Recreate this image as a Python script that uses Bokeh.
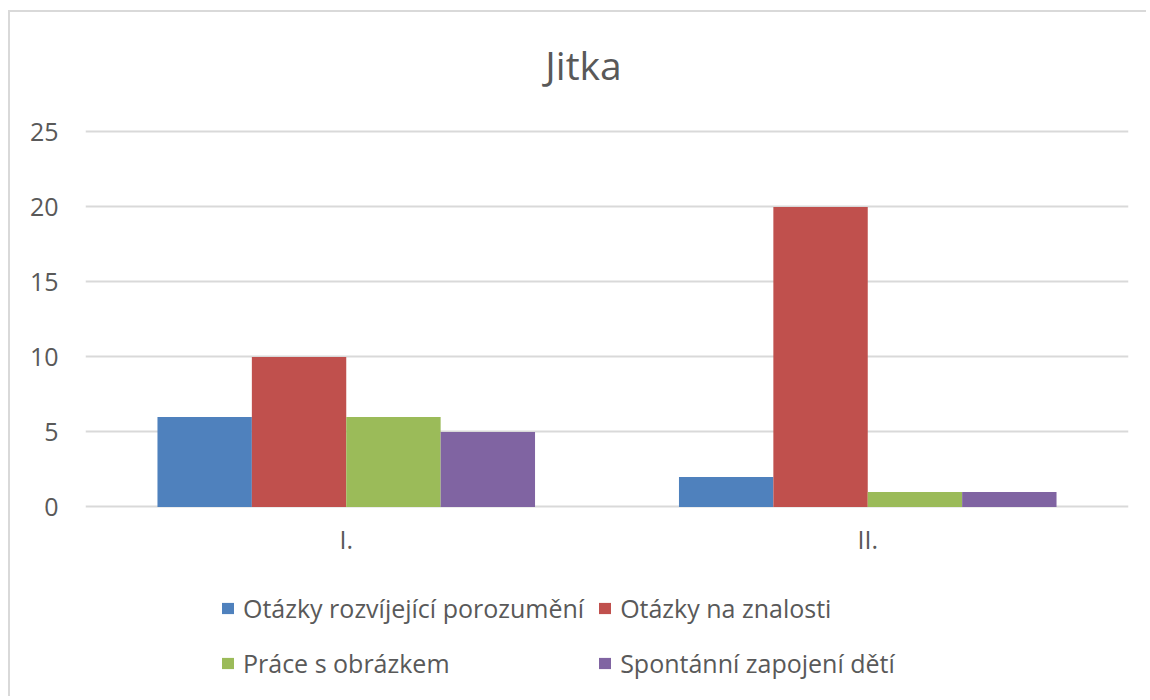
from bokeh.plotting import figure
from bokeh.models import ColumnDataSource, FactorRange, Range1d, FixedTicker, Legend, LegendItem, Label
from bokeh.transform import dodge
from bokeh.embed import file_html
from bokeh.resources import INLINE

title_text = "Jitka"
categories = ["I.", "II."]
series_names = ["Otázky rozvíjející porozumění", "Otázky na znalosti",
                "Práce s obrázkem", "Spontánní zapojení dětí"]
s_porozumeni = [6, 2]
s_znalosti = [10, 20]
s_obrazek = [6, 1]
s_spontanni = [5, 1]
y_ticks = [0, 5, 10, 15, 20, 25]

colors = ["#4F81BD", "#C0504D", "#9BBB59", "#8064A2"]
FONT = "Open Sans"
TXT = "#595959"

source = ColumnDataSource(dict(cat=categories, s1=s_porozumeni, s2=s_znalosti,
                               s3=s_obrazek, s4=s_spontanni))

p = figure(width=1138, height=686, output_backend="svg", toolbar_location=None,
           x_range=FactorRange(factors=categories, range_padding=0),
           y_range=Range1d(-12.77, 32.96),
           min_border_left=75, min_border_right=20, min_border_top=0, min_border_bottom=0,
           styles={"border-top": "2px solid #d9d9d9", "border-left": "2px solid #d9d9d9",
                   "margin-top": "10px", "margin-left": "8px"})
p.outline_line_color = None
p.background_fill_color = "white"
p.border_fill_color = "white"

bw = 0.181
offsets = [-1.5 * bw, -0.5 * bw, 0.5 * bw, 1.5 * bw]
cols = ["s1", "s2", "s3", "s4"]
renderers = []
for c, off, col in zip(cols, offsets, colors):
    r = p.vbar(x=dodge("cat", off, range=p.x_range), top=c, width=bw, bottom=0,
               source=source, fill_color=col, line_color=None)
    renderers.append(r)

p.xgrid.grid_line_color = None
p.ygrid.grid_line_color = "#d9d9d9"
p.ygrid.grid_line_width = 2
p.yaxis.ticker = FixedTicker(ticks=y_ticks)
p.xaxis.fixed_location = 0

for ax in (p.xaxis[0], p.yaxis[0]):
    ax.axis_line_color = None
    ax.major_tick_line_color = None
    ax.minor_tick_line_color = None
    ax.major_tick_in = 0
    ax.major_tick_out = 0
    ax.major_label_text_font = FONT
    ax.major_label_text_font_size = "25px"
    ax.major_label_text_color = TXT
p.yaxis.major_label_standoff = 27
p.xaxis.major_label_standoff = 15

title = Label(x=498, y=634, x_units="screen", y_units="screen", text=title_text,
              text_align="center", text_baseline="alphabetic",
              text_font=FONT, text_font_size="39px", text_color=TXT)
p.add_layout(title, "center")

legend = Legend(items=[LegendItem(label=series_names[i], renderers=[renderers[i]]) for i in range(4)],
                location=(135, 14), orientation="horizontal", ncols=2,
                label_text_font=FONT, label_text_font_size="25px", label_text_color=TXT,
                glyph_width=15, glyph_height=14, label_standoff=8, label_height=42,
                spacing=13, padding=0, margin=0, border_line_color=None,
                background_fill_alpha=0)
p.add_layout(legend, "center")

open("out.html", "w").write(file_html(p, INLINE))
